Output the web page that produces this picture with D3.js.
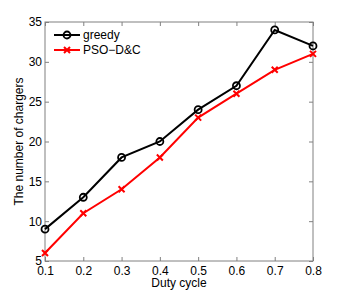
<!DOCTYPE html>
<html>
<head>
<meta charset="utf-8">
<script src="https://cdn.jsdelivr.net/npm/d3@7"></script>
<style>
  body { margin: 0; background: #fff; }
  text { font-family: "Liberation Sans", Arial, sans-serif; }
</style>
</head>
<body>
<div id="chart"></div>
<script>
var dutyCycle = [0.1, 0.2, 0.3, 0.4, 0.5, 0.6, 0.7, 0.8];
var greedy = [9, 13, 18, 20, 24, 27, 34, 32];
var psoDC = [6, 11, 14, 18, 23, 26, 29, 31];
var yTicks = [5, 10, 15, 20, 25, 30, 35];

var margin = { top: 22, right: 33, bottom: 34, left: 45 },
    width = 346 - margin.left - margin.right,
    height = 295 - margin.top - margin.bottom;

var svg = d3.select("#chart")
    .append("svg")
    .attr("width", 346)
    .attr("height", 295)
    .append("g")
    .attr("transform", "translate(" + margin.left + "," + margin.top + ")");

var x = d3.scaleLinear().domain([0.1, 0.8]).range([0, width]);
var y = d3.scaleLinear().domain([5, 35]).range([height, 0]);

var axisColor = "#808080";
var fs = "12px";

// box with inward ticks (matlab style)
function styleAxis(g, showText) {
    g.select(".domain").remove();
    g.selectAll("line").attr("stroke", axisColor);
    g.selectAll("text").attr("fill", "#000").style("font-size", fs);
    if (!showText) g.selectAll("text").remove();
}

svg.append("g")
    .attr("transform", "translate(0," + height + ")")
    .call(d3.axisBottom(x).tickValues(dutyCycle).tickFormat(d3.format(".1f")).tickSizeInner(-4).tickPadding(5))
    .call(g => styleAxis(g, true));
svg.append("g")
    .call(d3.axisTop(x).tickValues(dutyCycle).tickSizeInner(-4))
    .call(g => styleAxis(g, false));
svg.append("g")
    .call(d3.axisLeft(y).tickValues(yTicks).tickSizeInner(-4).tickPadding(3))
    .call(g => styleAxis(g, true));
svg.append("g")
    .attr("transform", "translate(" + width + ",0)")
    .call(d3.axisRight(y).tickValues(yTicks).tickSizeInner(-4))
    .call(g => styleAxis(g, false));

svg.append("rect")
    .attr("width", width)
    .attr("height", height)
    .attr("fill", "none")
    .attr("stroke", axisColor)
    .attr("stroke-width", 1);

var line = d3.line()
    .x((d, i) => x(dutyCycle[i]))
    .y(d => y(d));

svg.append("path")
    .datum(psoDC)
    .attr("fill", "none")
    .attr("stroke", "#ff0000")
    .attr("stroke-width", 2)
    .attr("d", line);

svg.append("path")
    .datum(greedy)
    .attr("fill", "none")
    .attr("stroke", "#000")
    .attr("stroke-width", 2)
    .attr("d", line);

function cross(sel, cx, cy) {
    var s = 3;
    sel.append("path")
        .attr("d", "M" + (cx - s) + "," + (cy - s) + "L" + (cx + s) + "," + (cy + s) +
            "M" + (cx - s) + "," + (cy + s) + "L" + (cx + s) + "," + (cy - s))
        .attr("stroke", "#ff0000")
        .attr("stroke-width", 2)
        .attr("fill", "none");
}

svg.append("g").selectAll("circle")
    .data(greedy)
    .join("circle")
    .attr("cx", (d, i) => x(dutyCycle[i]))
    .attr("cy", d => y(d))
    .attr("r", 3.5)
    .attr("fill", "none")
    .attr("stroke", "#000")
    .attr("stroke-width", 1.8);

var crossG = svg.append("g");
psoDC.forEach((d, i) => cross(crossG, x(dutyCycle[i]), y(d)));

// legend
var legend = svg.append("g").attr("transform", "translate(9,13)");
legend.append("line").attr("x1", 0).attr("x2", 26).attr("y1", 0).attr("y2", 0)
    .attr("stroke", "#000").attr("stroke-width", 2);
legend.append("circle").attr("cx", 13).attr("cy", 0).attr("r", 3.5)
    .attr("fill", "none").attr("stroke", "#000").attr("stroke-width", 1.8);
legend.append("text").attr("x", 29).attr("y", 0).attr("dy", "0.35em")
    .style("font-size", fs).text("greedy");
legend.append("line").attr("x1", 0).attr("x2", 26).attr("y1", 15).attr("y2", 15)
    .attr("stroke", "#ff0000").attr("stroke-width", 2);
cross(legend, 13, 15);
legend.append("text").attr("x", 29).attr("y", 15).attr("dy", "0.35em")
    .style("font-size", fs).text("PSO\u2212D&C");

// axis labels
svg.append("text")
    .attr("x", width / 2)
    .attr("y", height + 26)
    .attr("text-anchor", "middle")
    .style("font-size", fs)
    .text("Duty cycle");

svg.append("text")
    .attr("transform", "translate(-26," + (height / 2) + ") rotate(-90)")
    .attr("dy", "0.35em")
    .attr("text-anchor", "middle")
    .style("font-size", fs)
    .text("The number of chargers");
</script>
</body>
</html>
